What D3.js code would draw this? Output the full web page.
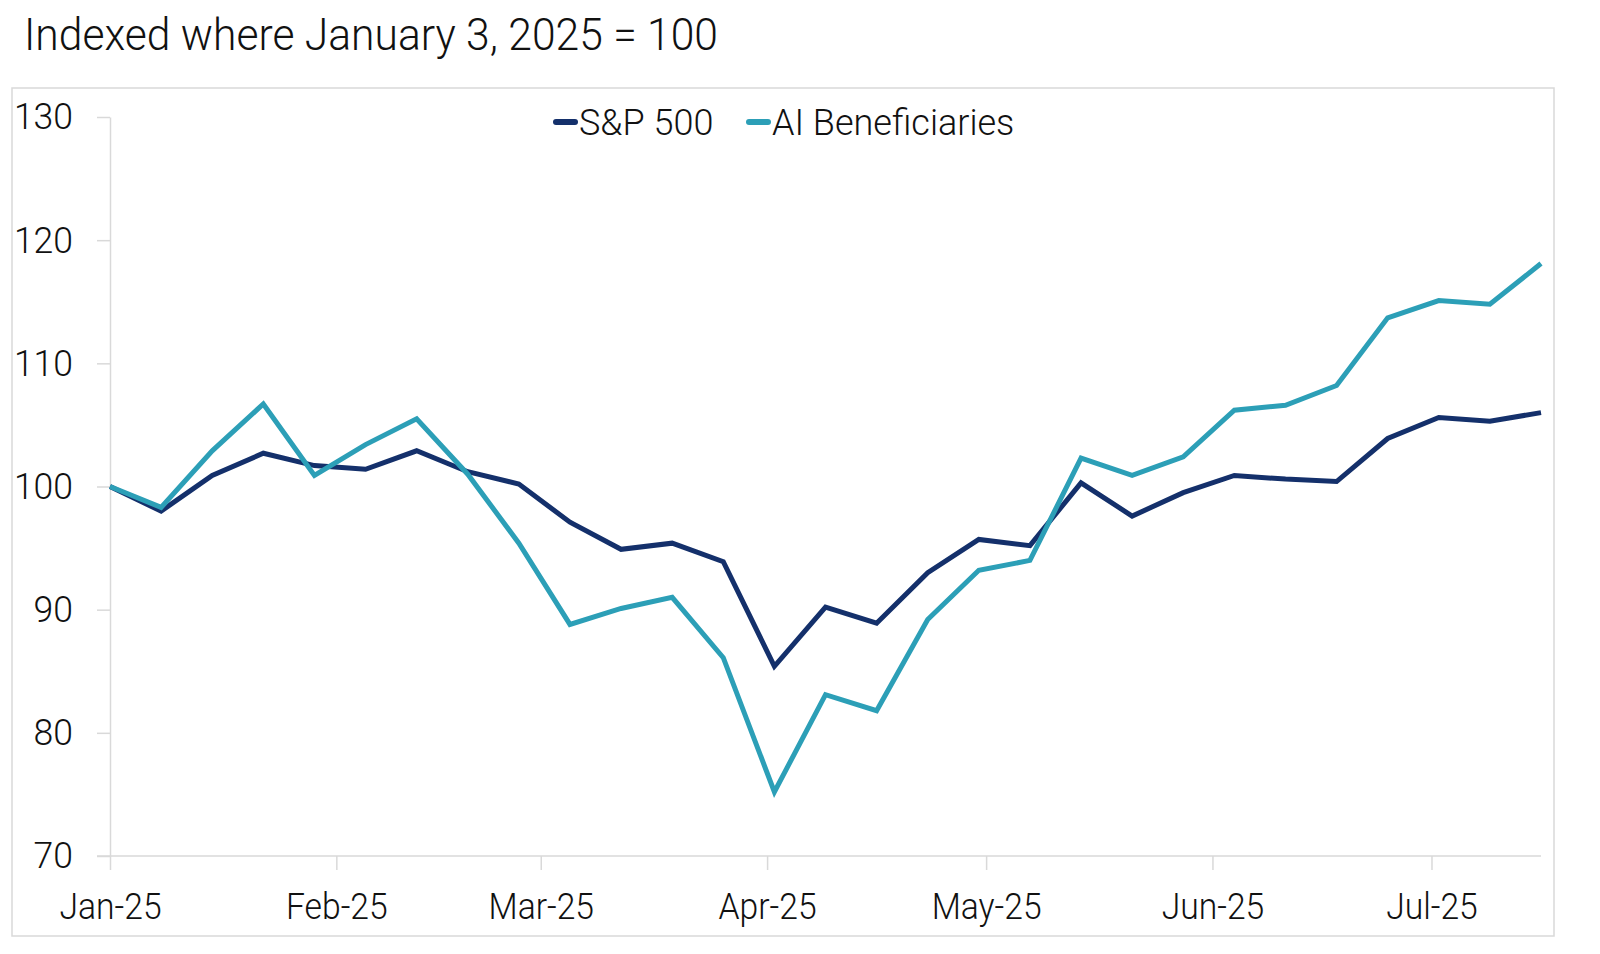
<!DOCTYPE html>
<html>
<head>
<meta charset="utf-8">
<script src="https://cdn.jsdelivr.net/npm/d3@7"></script>
<style>
  body { margin: 0; background: #fff; }
  text { font-family: Roboto, "DejaVu Sans Condensed", sans-serif; font-weight: 300; }
</style>
</head>
<body>
<div id="chart-area"></div>
<script>
// weekly closes, indexed to Jan 3 2025 = 100
const weeks = ["2025-01-03","2025-01-10","2025-01-17","2025-01-24","2025-01-31",
  "2025-02-07","2025-02-14","2025-02-21","2025-02-28","2025-03-07","2025-03-14",
  "2025-03-21","2025-03-28","2025-04-04","2025-04-11","2025-04-18","2025-04-25",
  "2025-05-02","2025-05-09","2025-05-16","2025-05-23","2025-05-30","2025-06-06",
  "2025-06-13","2025-06-20","2025-06-27","2025-07-04","2025-07-11","2025-07-18"];

const sp500 = [100, 98.0, 100.9, 102.7, 101.7, 101.4, 102.9, 101.2, 100.2, 97.1,
  94.9, 95.4, 93.9, 85.4, 90.2, 88.9, 93.0, 95.7, 95.2, 100.3, 97.6, 99.5, 100.9,
  100.6, 100.4, 103.9, 105.6, 105.3, 106.0];

const aiBenef = [100, 98.3, 102.9, 106.7, 100.9, 103.4, 105.5, 101.0, 95.4, 88.8,
  90.1, 91.0, 86.1, 75.2, 83.1, 81.8, 89.2, 93.2, 94.0, 102.3, 100.9, 102.4, 106.2,
  106.6, 108.2, 113.7, 115.1, 114.8, 118.1];

const seriesNames = ["S&P 500", "AI Beneficiaries"];
const seriesColors = ["#14306b", "#2c9fb7"];

const monthTicks = ["2025-01-03","2025-02-03","2025-03-03","2025-04-03",
  "2025-05-03","2025-06-03","2025-07-03"];
const yTicks = [70, 80, 90, 100, 110, 120, 130];

const title = "Indexed where January 3, 2025 = 100";

let width = 1600,
    height = 954;

const parse = d3.timeParse("%Y-%m-%d");
const dates = weeks.map(parse);

// the original face is a narrow one, so squeeze text a little
function narrow(sel, factor) {
  sel.each(function() {
    const w = this.getComputedTextLength();
    d3.select(this)
      .attr("textLength", w * factor)
      .attr("lengthAdjust", "spacingAndGlyphs");
  });
}

const svg = d3.select("#chart-area")
  .append("svg")
  .attr("width", width)
  .attr("height", height);

svg.append("rect")
  .attr("width", width)
  .attr("height", height)
  .attr("fill", "white");

// title
svg.append("text")
  .attr("x", 24)
  .attr("y", 50)
  .attr("font-size", 45)
  .attr("font-weight", 400)
  .attr("fill", "#111")
  .attr("textLength", 694)
  .attr("lengthAdjust", "spacingAndGlyphs")
  .text(title);

// chart frame
svg.append("rect")
  .attr("x", 12)
  .attr("y", 88)
  .attr("width", 1542)
  .attr("height", 848)
  .attr("fill", "none")
  .attr("stroke", "#d9d9d9")
  .attr("stroke-width", 1.5);

let x = d3.scaleTime()
  .domain(d3.extent(dates))
  .range([110, 1541]);

let y = d3.scaleLinear()
  .domain([70, 130])
  .range([856, 117]);

// x axis
svg.append("g")
  .attr("transform", `translate(0,${y(70)})`)
  .call(d3.axisBottom(x)
    .tickValues(monthTicks.map(parse))
    .tickFormat(d3.timeFormat("%b-%y"))
    .tickSize(14)
    .tickSizeOuter(0)
    .tickPadding(23))
  .call(g => g.select(".domain").remove())
  .call(g => g.append("line")
    .attr("x1", 97)
    .attr("x2", 1541)
    .attr("stroke", "#d9d9d9")
    .attr("stroke-width", 1.5))
  .call(g => g.selectAll(".tick line").attr("stroke", "#d9d9d9").attr("stroke-width", 1.5))
  .call(g => g.selectAll(".tick text")
    .attr("font-family", null)
    .attr("font-size", 37)
    .attr("fill", "#111")
    .call(narrow, 0.91));

// y axis
svg.append("g")
  .attr("transform", `translate(${x(dates[0])},0)`)
  .call(d3.axisLeft(y)
    .tickValues(yTicks)
    .tickSize(13)
    .tickSizeOuter(0)
    .tickPadding(24))
  .call(g => g.select(".domain").attr("stroke", "#d9d9d9").attr("stroke-width", 1.5))
  .call(g => g.selectAll(".tick line").attr("stroke", "#d9d9d9").attr("stroke-width", 1.5))
  .call(g => g.selectAll(".tick text")
    .attr("font-family", null)
    .attr("font-size", 37)
    .attr("fill", "#111")
    .call(narrow, 0.96));

// lines
const line = d3.line()
  .x((d, i) => x(dates[i]))
  .y(d => y(d));

[sp500, aiBenef].forEach((vals, k) => {
  svg.append("path")
    .datum(vals)
    .attr("fill", "none")
    .attr("stroke", seriesColors[k])
    .attr("stroke-width", 5)
    .attr("stroke-linejoin", "miter")
    .attr("d", line);
});

// legend
const legendX = [553, 746];
const legend = svg.append("g")
  .selectAll("g")
  .data(seriesNames)
  .join("g")
  .attr("transform", (d, i) => `translate(${legendX[i]},122)`);

legend.append("line")
  .attr("x1", 3)
  .attr("x2", 22)
  .attr("stroke", (d, i) => seriesColors[i])
  .attr("stroke-width", 6)
  .attr("stroke-linecap", "round");

legend.append("text")
  .attr("x", 26)
  .attr("dy", "0.35em")
  .attr("font-size", 36)
  .attr("fill", "#111")
  .text(d => d);
</script>
</body>
</html>
